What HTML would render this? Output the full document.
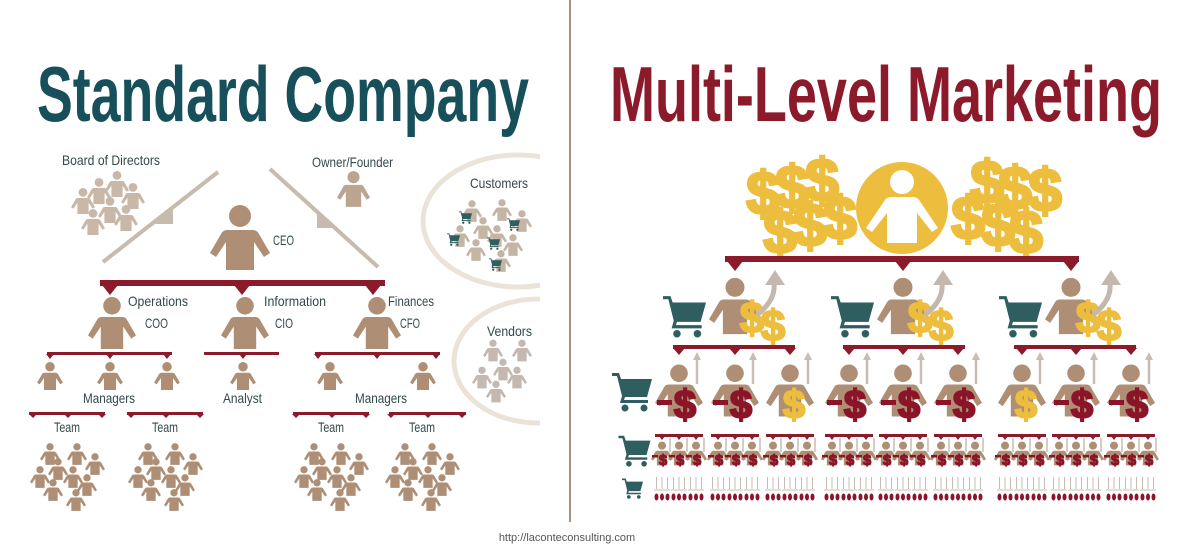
<!DOCTYPE html>
<html><head><meta charset="utf-8"><style>
html,body{margin:0;padding:0;background:#fff;}
svg{display:block;}
.l{font-family:"Liberation Sans Narrow","Liberation Sans",sans-serif;font-size:14px;fill:#33494b;}
</style></head><body>
<svg width="1200" height="552" viewBox="0 0 1200 552" xmlns="http://www.w3.org/2000/svg" xmlns:xlink="http://www.w3.org/1999/xlink">
<defs>
<symbol id="P" viewBox="0 0 60 65"><circle cx="30" cy="11" r="11"/><path d="M17 25H43Q47 25 49 29L60 48L54 52L44 37V65H16V37L6 52L0 48L11 29Q13 25 17 25Z"/></symbol>
<symbol id="C" viewBox="0 0 40 40"><path d="M0 1h7l2 6h31l-5 18H13l-1 3h24v3H8l2-7L5 4H0z"/><circle cx="13" cy="36" r="3.5"/><circle cx="32" cy="36" r="3.5"/></symbol>
<clipPath id="lc"><rect x="0" y="0" width="540" height="552"/></clipPath>
<g id="team">
<use href="#P" x="-27" y="443" width="20" height="22"/>
<use href="#P" x="0" y="443" width="20" height="22"/>
<use href="#P" x="18" y="453" width="20" height="22"/>
<use href="#P" x="-19" y="458" width="20" height="22"/>
<use href="#P" x="-37" y="466" width="20" height="22"/>
<use href="#P" x="-4" y="466" width="20" height="22"/>
<use href="#P" x="10" y="474" width="20" height="22"/>
<use href="#P" x="-24" y="479" width="20" height="22"/>
<use href="#P" x="-1" y="489" width="20" height="22"/>
</g>
<g id="L2">
<use href="#C" x="662" y="295" width="45" height="43" fill="#2f5e60"/>
<use href="#P" x="709" y="277" width="52" height="58" fill="#ae8f76"/>
<g font-family="Liberation Sans" font-weight="bold" font-size="44" fill="#edbd3d" stroke="#edbd3d" stroke-width="2" text-anchor="middle">
<text x="752" y="333">$</text>
<text x="773" y="341">$</text>
</g>
<path d="M757 315Q776 300 774 283" stroke="#c4b8ae" stroke-width="5" fill="none"/>
<polygon points="765,285 775,270 785,285" fill="#c4b8ae"/>
</g>
<g id="L3r">
<line x1="18" y1="384" x2="18" y2="358" stroke="#c8bdb3" stroke-width="2.5"/>
<polygon points="14,360 18,352 22,360" fill="#c8bdb3"/>
<use href="#P" x="-24" y="363" width="48" height="55" fill="#ae8f76"/>
<rect x="-22" y="400" width="15" height="5" fill="#8c1428"/>
<text x="6" y="418" font-family="Liberation Sans" font-weight="bold" font-size="40" fill="#8c1428" stroke="#8c1428" stroke-width="2" text-anchor="middle">$</text>
</g>
<g id="L3y">
<line x1="18" y1="384" x2="18" y2="358" stroke="#c8bdb3" stroke-width="2.5"/>
<polygon points="14,360 18,352 22,360" fill="#c8bdb3"/>
<use href="#P" x="-24" y="363" width="48" height="55" fill="#ae8f76"/>
<text x="4" y="418" font-family="Liberation Sans" font-weight="bold" font-size="40" fill="#edbd3d" stroke="#edbd3d" stroke-width="2" text-anchor="middle">$</text>
</g>
<g id="p4">
<line x1="8" y1="452" x2="8" y2="438" stroke="#c8bdb3" stroke-width="1.5"/>
<use href="#P" x="-11" y="441" width="22" height="25" fill="#ae8f76"/>
<rect x="-10" y="455" width="6" height="2.5" fill="#8c1428"/>
<text x="1" y="465" font-family="Liberation Sans" font-weight="bold" font-size="15" fill="#8c1428" stroke="#8c1428" stroke-width="1" text-anchor="middle">$</text>
</g>
<g id="g4">
<rect x="-24" y="434" width="48" height="3" fill="#8b1a2a"/>
<polygon points="-20,436 -17,440 -14,436 -3,436 0,440 3,436 14,436 17,440 20,436" fill="#8b1a2a"/>
<use href="#p4" x="-17"/><use href="#p4" x="0"/><use href="#p4" x="17"/>
</g>
<g id="m5">
<line x1="0" y1="477" x2="0" y2="489" stroke="#c8bdb3" stroke-width="1"/>
<ellipse cx="0" cy="497" rx="2" ry="3.5" fill="#8c1428"/>
</g>
<g id="g5">
<line x1="-8" y1="490" x2="8" y2="490" stroke="#c8bdb3" stroke-width="1"/>
<use href="#m5" x="-5.5"/><use href="#m5" x="0"/><use href="#m5" x="5.5"/>
</g>
<g id="G5">
<use href="#g5" x="-17"/><use href="#g5" x="0"/><use href="#g5" x="17"/>
</g>
</defs>

<text x="37" y="121" font-family="Liberation Sans Narrow,Liberation Sans,sans-serif" font-weight="bold" font-size="78" fill="#17505a" textLength="492" lengthAdjust="spacingAndGlyphs">Standard Company</text>
<text x="610" y="121" font-family="Liberation Sans Narrow,Liberation Sans,sans-serif" font-weight="bold" font-size="78" fill="#8b1a2a" textLength="552" lengthAdjust="spacingAndGlyphs">Multi-Level Marketing</text>

<line x1="570" y1="0" x2="570" y2="522" stroke="#a89383" stroke-width="2"/>
<text x="567" y="541" font-family="Liberation Sans,sans-serif" font-size="11" fill="#555" text-anchor="middle">http://laconteconsulting.com</text>

<g clip-path="url(#lc)">
<ellipse cx="518" cy="221" rx="95" ry="66" fill="none" stroke="#ebe3d8" stroke-width="5"/>
<ellipse cx="538" cy="361" rx="84" ry="62" fill="none" stroke="#ebe3d8" stroke-width="5"/>
</g>
<text class="l" x="62" y="165" textLength="98" lengthAdjust="spacingAndGlyphs">Board of Directors</text>
<text class="l" x="312" y="167" textLength="81" lengthAdjust="spacingAndGlyphs">Owner/Founder</text>
<text class="l" x="273" y="245" textLength="21" lengthAdjust="spacingAndGlyphs">CEO</text>
<text class="l" x="128" y="306" textLength="60" lengthAdjust="spacingAndGlyphs">Operations</text>
<text class="l" x="145" y="328" textLength="23" lengthAdjust="spacingAndGlyphs">COO</text>
<text class="l" x="264" y="306" textLength="62" lengthAdjust="spacingAndGlyphs">Information</text>
<text class="l" x="275" y="328" textLength="18" lengthAdjust="spacingAndGlyphs">CIO</text>
<text class="l" x="388" y="306" textLength="46" lengthAdjust="spacingAndGlyphs">Finances</text>
<text class="l" x="400" y="328" textLength="20" lengthAdjust="spacingAndGlyphs">CFO</text>
<text class="l" x="83" y="403" textLength="52" lengthAdjust="spacingAndGlyphs">Managers</text>
<text class="l" x="223" y="403" textLength="39" lengthAdjust="spacingAndGlyphs">Analyst</text>
<text class="l" x="355" y="403" textLength="52" lengthAdjust="spacingAndGlyphs">Managers</text>
<text class="l" x="54" y="432" textLength="26" lengthAdjust="spacingAndGlyphs">Team</text>
<text class="l" x="152" y="432" textLength="26" lengthAdjust="spacingAndGlyphs">Team</text>
<text class="l" x="318" y="432" textLength="26" lengthAdjust="spacingAndGlyphs">Team</text>
<text class="l" x="409" y="432" textLength="26" lengthAdjust="spacingAndGlyphs">Team</text>
<text class="l" x="470" y="188" textLength="58" lengthAdjust="spacingAndGlyphs">Customers</text>
<text class="l" x="487" y="336" textLength="45" lengthAdjust="spacingAndGlyphs">Vendors</text>

<line x1="103" y1="262" x2="218" y2="172" stroke="#c7bbae" stroke-width="4"/>
<polygon points="155,224 173,209 173,224" fill="#c7bbae"/>
<line x1="270" y1="169" x2="378" y2="267" stroke="#c7bbae" stroke-width="4"/>
<polygon points="317,212 317,228 335,228" fill="#c7bbae"/>

<g fill="#c9b8a7">
<use href="#P" x="105" y="169" width="24" height="30"/>
<use href="#P" x="87" y="176" width="24" height="30"/>
<use href="#P" x="121" y="181" width="24" height="30"/>
<use href="#P" x="71" y="186" width="24" height="30"/>
<use href="#P" x="98" y="195" width="24" height="30"/>
<use href="#P" x="81" y="207" width="24" height="30"/>
<use href="#P" x="114" y="203" width="24" height="30"/>
</g>
<use href="#P" x="337" y="171" width="33" height="36" fill="#bba591"/>

<g fill="#ae8f76">
<use href="#P" x="210" y="205" width="60" height="65"/>
<use href="#P" x="88" y="297" width="48" height="52"/>
<use href="#P" x="221" y="297" width="48" height="52"/>
<use href="#P" x="353" y="297" width="48" height="52"/>
<use href="#P" x="37" y="362" width="26" height="28"/>
<use href="#P" x="97" y="362" width="26" height="28"/>
<use href="#P" x="154" y="362" width="26" height="28"/>
<use href="#P" x="230" y="362" width="26" height="28"/>
<use href="#P" x="317" y="362" width="26" height="28"/>
<use href="#P" x="410" y="362" width="26" height="28"/>
<use href="#team" x="67"/>
<use href="#team" x="165"/>
<use href="#team" x="331"/>
<use href="#team" x="422"/>
</g>

<g fill="#8b1a2a">
<rect x="100" y="280" width="285" height="6"/>
<polygon points="102,285 110,295 118,285 234,285 242,295 250,285 365,285 373,295 381,285"/>
<rect x="47" y="352" width="125" height="3"/>
<polygon points="46,354 50,359 54,354 106,354 110,359 114,354 163,354 167,359 171,354"/>
<rect x="204" y="352" width="75" height="3"/>
<polygon points="239,354 243,359 247,354"/>
<rect x="315" y="352" width="125" height="3"/>
<polygon points="314,354 318,359 322,354 373,354 377,359 381,354 432,354 436,359 440,354"/>
<rect x="29" y="412" width="76" height="3"/>
<polygon points="29,414 33,418 37,414 64,414 68,418 72,414 98,414 102,418 106,414"/>
<rect x="127" y="412" width="76" height="3"/>
<polygon points="127,414 131,418 135,414 162,414 166,418 170,414 196,414 200,418 204,414"/>
<rect x="293" y="412" width="76" height="3"/>
<polygon points="292,414 296,418 300,414 328,414 332,418 336,414 362,414 366,418 370,414"/>
<rect x="389" y="412" width="77" height="3"/>
<polygon points="387,414 391,418 395,414 424,414 428,418 432,414 458,414 462,418 466,414"/>
</g>

<g fill="#c5b5a5">
<use href="#P" x="462" y="198" width="20" height="26"/>
<use href="#P" x="492" y="197" width="20" height="26"/>
<use href="#P" x="512" y="208" width="20" height="26"/>
<use href="#P" x="473" y="215" width="20" height="26"/>
<use href="#P" x="450" y="223" width="20" height="26"/>
<use href="#P" x="487" y="223" width="20" height="26"/>
<use href="#P" x="503" y="232" width="20" height="26"/>
<use href="#P" x="466" y="237" width="20" height="26"/>
<use href="#P" x="491" y="248" width="20" height="26"/>
</g>
<g fill="#2f5e60">
<use href="#C" x="459" y="211" width="13" height="13"/>
<use href="#C" x="507" y="218" width="13" height="13"/>
<use href="#C" x="447" y="233" width="13" height="13"/>
<use href="#C" x="487" y="237" width="13" height="13"/>
<use href="#C" x="489" y="258" width="13" height="13"/>
</g>
<g fill="#c4b8b0">
<use href="#P" x="483" y="338" width="20" height="25"/>
<use href="#P" x="512" y="338" width="20" height="25"/>
<use href="#P" x="493" y="357" width="20" height="25"/>
<use href="#P" x="472" y="365" width="20" height="25"/>
<use href="#P" x="507" y="365" width="20" height="25"/>
<use href="#P" x="486" y="379" width="20" height="25"/>
</g>

<g font-family="Liberation Sans" font-weight="bold" font-size="60" fill="#edbd3d" stroke="#edbd3d" stroke-width="3" text-anchor="middle">
<text x="763" y="214">$</text><text x="792" y="208">$</text><text x="822" y="201">$</text>
<text x="780" y="253">$</text><text x="810" y="246">$</text><text x="840" y="239">$</text>
<text x="987" y="203">$</text><text x="1015" y="209">$</text><text x="1045" y="211">$</text>
<text x="968" y="239">$</text><text x="998" y="246">$</text><text x="1026" y="253">$</text>
</g>
<circle cx="902" cy="208" r="46" fill="#edbd3d"/>
<circle cx="902" cy="182" r="12" fill="#fff"/>
<path d="M892 197H913Q917 197 919 200L938 228L932 232L917 213V243H887V213L872 232L866 228L885 200Q887 197 892 197Z" fill="#fff"/>

<g fill="#8b1a2a">
<rect x="725" y="256" width="354" height="6"/>
<polygon points="727,261 735,271 743,261 895,261 903,271 911,261 1063,261 1071,271 1079,261"/>
<rect x="673" y="345" width="122" height="4"/>
<polygon points="673,348 679,355 685,348 729,348 735,355 741,348 784,348 790,355 796,348"/>
<rect x="843" y="345" width="122" height="4"/>
<polygon points="843,348 849,355 855,348 897,348 903,355 909,348 952,348 958,355 964,348"/>
<rect x="1014" y="345" width="122" height="4"/>
<polygon points="1016,348 1022,355 1028,348 1070,348 1076,355 1082,348 1125,348 1131,355 1137,348"/>
</g>

<use href="#L2" x="0"/>
<use href="#L2" x="168"/>
<use href="#L2" x="336"/>

<use href="#C" x="612" y="372" width="40" height="40" fill="#2f5e60"/>
<use href="#C" x="617" y="435" width="35" height="32" fill="#2f5e60"/>
<use href="#C" x="622" y="478" width="21" height="21" fill="#2f5e60"/>

<use href="#L3r" x="679"/><use href="#L3r" x="735"/><use href="#L3y" x="790"/>
<use href="#L3r" x="849"/><use href="#L3r" x="903"/><use href="#L3r" x="958"/>
<use href="#L3y" x="1022"/><use href="#L3r" x="1076"/><use href="#L3r" x="1131"/>

<use href="#g4" x="679"/><use href="#g4" x="735"/><use href="#g4" x="790"/>
<use href="#g4" x="849"/><use href="#g4" x="903"/><use href="#g4" x="958"/>
<use href="#g4" x="1022"/><use href="#g4" x="1076"/><use href="#g4" x="1131"/>

<use href="#G5" x="679"/><use href="#G5" x="735"/><use href="#G5" x="790"/>
<use href="#G5" x="849"/><use href="#G5" x="903"/><use href="#G5" x="958"/>
<use href="#G5" x="1022"/><use href="#G5" x="1076"/><use href="#G5" x="1131"/>
</svg>
</body></html>
